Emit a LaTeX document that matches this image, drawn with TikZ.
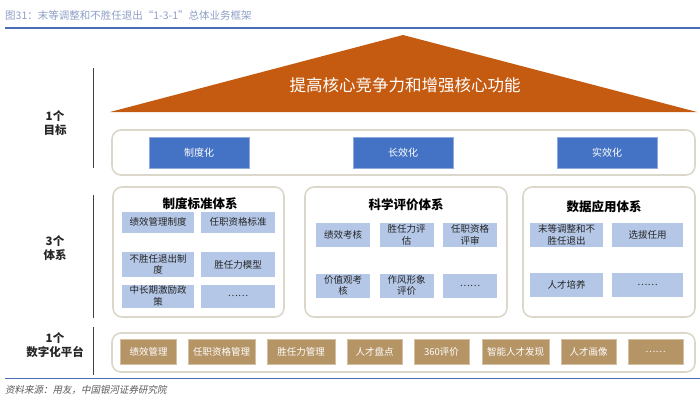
\documentclass[tikz,border=0pt]{standalone}
\usepackage{fontspec}
\setmainfont{Noto Sans CJK SC}
\newfontfamily\cjkit[FakeSlant=0.2]{Noto Sans CJK SC}
\definecolor{roof}{HTML}{C55A11}
\definecolor{bluebox}{HTML}{4472C4}
\definecolor{lightbox}{HTML}{B4C7E7}
\definecolor{tanbox}{HTML}{B59466}
\definecolor{frame}{HTML}{DCD7CB}
\definecolor{titlec}{HTML}{8E9EC6}
\definecolor{rulec}{HTML}{4A6CB0}
\tikzset{
  panel/.style={draw=frame, line width=1.6pt, rounded corners=9pt, fill=white},
  goalbox/.style={fill=bluebox, draw=bluebox!60!white, line width=0.4pt, text=white, minimum width=100pt, minimum height=31pt, inner sep=0pt, font=\fontsize{10}{12}\selectfont},
  itembox/.style={fill=lightbox, text=black!85, inner sep=0pt, align=center, font=\fontsize{9.5}{11.5}\selectfont},
  platbox/.style={fill=tanbox, draw=tanbox!60!white, line width=0.4pt, text=white, minimum height=25pt, inner sep=0pt, font=\fontsize{9.5}{11}\selectfont},
  sidelabel/.style={align=center, font=\bfseries\fontsize{11.5}{14}\selectfont, text=black!85},
  systitle/.style={font=\bfseries\fontsize{12.5}{14}\selectfont, text=black},
  sideline/.style={line width=1pt, draw=black!75}
}
\begin{document}
\begin{tikzpicture}[x=1pt,y=-1pt]
\useasboundingbox (0,0) rectangle (700,400);
% title
\node[anchor=west, text=titlec, font=\fontsize{10.5}{12}\selectfont, inner sep=0pt] (title) at (5,15) {图31：末等调整和不胜任退出“1-3-1”总体业务框架};
\coordinate (r1a) at (5,28); \coordinate (r1b) at (700,28);
\draw[rulec, line width=1.2pt] (r1a) -- (r1b);
\coordinate (r2a) at (5,378); \coordinate (r2b) at (700,378);
\draw[rulec, line width=1pt] (r2a) -- (r2b);
\node[anchor=west, text=black!65, font=\cjkit\fontsize{9.5}{11}\selectfont, inner sep=0pt] (src) at (5,390) {资料来源：用友，中国银河证券研究院};

% side labels and lines
\coordinate (l1a) at (93,68); \coordinate (l1b) at (93,168);
\coordinate (l2a) at (93,195); \coordinate (l2b) at (93,318);
\coordinate (l3a) at (93,327); \coordinate (l3b) at (93,375);
\draw[sideline] (l1a) -- (l1b);
\draw[sideline] (l2a) -- (l2b);
\draw[sideline] (l3a) -- (l3b);
\node[sidelabel] (goal) at (55,123) {1个\\目标};
\node[sidelabel] (sys) at (55,248) {3个\\体系};
\node[sidelabel] (plat) at (55,345) {1个\\数字化平台};

% roof
\coordinate (apex) at (403,35);
\coordinate (bl) at (110,112);
\coordinate (br) at (697,112);
\fill[roof] (bl) -- (apex) -- (br) -- cycle;
\node[text=white, font=\fontsize{16.5}{18}\selectfont] (rooftext) at (405,85) {提高核心竞争力和增强核心功能};

% goal panel
\draw[panel] (112,130) rectangle (695,175);
\node[goalbox] (g1) at (199,152.5) {制度化};
\node[goalbox] (g2) at (403,152.5) {长效化};
\node[goalbox] (g3) at (607,152.5) {实效化};

% system panels
\draw[panel] (113,187) rectangle (284,317);
\draw[panel] (305,187) rectangle (507,317);
\draw[panel] (523,187) rectangle (695,317);
\node[systitle] (s1) at (200,204) {制度标准体系};
\node[systitle] (s2) at (406,205) {科学评价体系};
\node[systitle] (s3) at (604,207) {数据应用体系};

% system 1 items
\node[itembox, minimum width=72pt, minimum height=21pt] (a1) at (158,222) {绩效管理制度};
\node[itembox, minimum width=74pt, minimum height=21pt] (a2) at (238,222) {任职资格标准};
\node[itembox, minimum width=72pt, minimum height=25pt] (a3) at (158,264.5) {不胜任退出制\\度};
\node[itembox, minimum width=74pt, minimum height=25pt] (a4) at (238,264.5) {胜任力模型};
\node[itembox, minimum width=72pt, minimum height=23pt] (a5) at (158,296) {中长期激励政\\策};
\node[itembox, minimum width=74pt, minimum height=23pt] (a6) at (238,296) {……};

% system 2 items
\node[itembox, minimum width=54pt, minimum height=24pt] (b1) at (343,235) {绩效考核};
\node[itembox, minimum width=54pt, minimum height=24pt] (b2) at (406.5,235) {胜任力评\\估};
\node[itembox, minimum width=54pt, minimum height=24pt] (b3) at (470,235) {任职资格\\评审};
\node[itembox, minimum width=54pt, minimum height=24pt] (b4) at (343,285.5) {价值观考\\核};
\node[itembox, minimum width=54pt, minimum height=24pt] (b5) at (406.5,285.5) {作风形象\\评价};
\node[itembox, minimum width=54pt, minimum height=24pt] (b6) at (470,285.5) {……};

% system 3 items
\node[itembox, minimum width=73pt, minimum height=24pt] (c1) at (566.5,235) {末等调整和不\\胜任退出};
\node[itembox, minimum width=71pt, minimum height=24pt] (c2) at (647.5,235) {选拔任用};
\node[itembox, minimum width=73pt, minimum height=24pt] (c3) at (566.5,285) {人才培养};
\node[itembox, minimum width=71pt, minimum height=24pt] (c4) at (647.5,285) {……};

% platform panel
\draw[panel] (112,333) rectangle (695,372);
\node[platbox, minimum width=56pt] (p1) at (148.5,352) {绩效管理};
\node[platbox, minimum width=67pt] (p2) at (221.5,352) {任职资格管理};
\node[platbox, minimum width=68pt] (p3) at (301,352) {胜任力管理};
\node[platbox, minimum width=55pt] (p4) at (374.5,352) {人才盘点};
\node[platbox, minimum width=55pt] (p5) at (441.5,352) {360评价};
\node[platbox, minimum width=67pt] (p6) at (515.5,352) {智能人才发现};
\node[platbox, minimum width=55pt] (p7) at (588.5,352) {人才画像};
\node[platbox, minimum width=55pt] (p8) at (655.5,352) {……};
\end{tikzpicture}
\end{document}
